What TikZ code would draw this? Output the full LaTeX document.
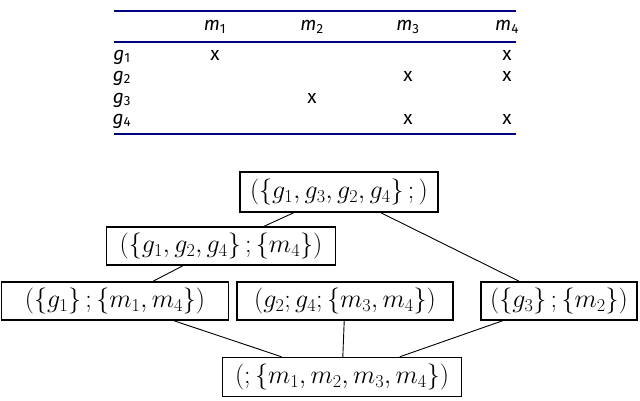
\documentclass[tikz,border=0pt]{standalone}
\usepackage{fix-cm}
\usepackage{anyfontsize}
\usepackage{fontspec}
\setsansfont{Fira Sans}
\begin{document}
\begin{tikzpicture}[x=1pt,y=-1pt,
 box/.style={draw,line width=1.5pt,inner sep=0pt,font=\fontsize{26}{30}\selectfont},
 tab/.style={font=\sffamily\itshape\fontsize{19}{22}\selectfont},
 cx/.style={font=\sffamily\fontsize{19}{22}\selectfont},
 rule/.style={draw=blue!50!black,line width=1.5pt},
 edge/.style={line width=0.9pt}]
\useasboundingbox (0,0) rectangle (640,400);
\path[rule] (114,11) -- (516,11);
\path[rule] (114,42) -- (516,42);
\path[rule] (114,134) -- (516,134);
\foreach \n/\x in {1/215,2/312,3/408,4/507}{\node[tab] (m\n) at (\x,27) {m\textsubscript{\upshape\n}};}
\foreach \n/\y in {1/57,2/78,3/100,4/121}{\node[tab] (g\n) at (122,\y) {g\textsubscript{\upshape\n}};}
\foreach \x/\y [count=\i] in {215/57,507/57,408/78,507/78,312/100,408/121,507/121}{\node[cx] (x\i) at (\x,\y-2) {x};}
\node[box,minimum width=198,minimum height=40] (top) at (339,192) {$(\{g_1,g_3,g_2,g_4\}\,;)$};
\node[box,minimum width=229,minimum height=38] (a) at (221,246) {$(\{g_1,g_2,g_4\}\,;\{m_4\})$};
\node[box,minimum width=227,minimum height=38] (b) at (115,301) {$(\{g_1\}\,;\{m_1,m_4\})$};
\node[box,minimum width=216,minimum height=38] (c) at (345,301) {$(g_2;g_4;\{m_3,m_4\})$};
\node[box,minimum width=156,minimum height=38] (d) at (559,301) {$(\{g_3\}\,;\{m_2\})$};
\node[box,minimum width=239,minimum height=39] (bot) at (342,377) {$(;\{m_1,m_2,m_3,m_4\})$};
\draw[edge] (top) -- (a);
\draw[edge] (top) -- (d);
\draw[edge] (a) -- (b);
\draw[edge] (bot) -- (b);
\draw[edge] (bot) -- (c);
\draw[edge] (bot) -- (d);
\end{tikzpicture}
\end{document}
